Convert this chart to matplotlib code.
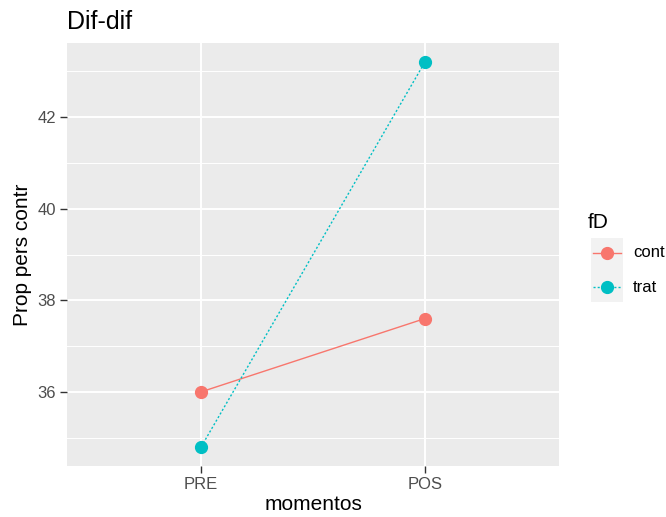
import matplotlib.pyplot as plt
from matplotlib.lines import Line2D
from matplotlib.patches import Rectangle

plt.rcParams['font.family'] = ['Liberation Sans', 'DejaVu Sans']

momentos = ['PRE', 'POS']
groups = ['cont', 'trat']
cont_vals = [36.0, 37.6]
trat_vals = [34.8, 43.2]
colors = {'cont': '#F8766D', 'trat': '#00BFC4'}
styles = {'cont': '-', 'trat': (0, (1.5, 1.5))}

W, H = 666, 517
fig = plt.figure(figsize=(W / 100, H / 100), dpi=100)
ax = fig.add_axes([67 / W, 1 - 466 / H, (559 - 67) / W, (466 - 43) / H])
ax.set_facecolor('#EBEBEB')
for s in ax.spines.values():
    s.set_visible(False)

x = list(range(len(momentos)))
for g, vals in zip(groups, [cont_vals, trat_vals]):
    ax.plot(x, vals, color=colors[g], linestyle=styles[g], lw=1.0,
            marker='o', markersize=8.5, zorder=3)

ax.set_xlim(-0.6, 1.6)
lo, hi = min(cont_vals + trat_vals), max(cont_vals + trat_vals)
pad = (hi - lo) * 0.05
ax.set_ylim(lo - pad, hi + pad)

ax.set_xticks(x)
ax.set_xticklabels(momentos)
ax.set_yticks([36, 38, 40, 42])
ax.set_yticks([35, 37, 39, 41, 43], minor=True)
ax.tick_params(axis='both', which='major', length=5, width=1, color='#333333',
               labelsize=12, labelcolor='#4D4D4D', pad=3)
ax.tick_params(axis='y', which='minor', length=0)
ax.grid(True, which='major', color='white', lw=1.4)
ax.grid(True, which='minor', axis='y', color='white', lw=0.7)
ax.set_axisbelow(True)

ax.set_xlabel('momentos', fontsize=15, labelpad=2)
ax.set_ylabel('Prop pers contr', fontsize=15, labelpad=4)
fig.text(67 / W, 1 - 22 / H, 'Dif-dif', fontsize=18, ha='left', va='center')

# legend
fig.text(588 / W, 1 - 222 / H, 'fD', fontsize=15, ha='left', va='center')
fig.patches.append(Rectangle((591 / W, 1 - 302 / H), 32 / W, 64 / H,
                             transform=fig.transFigure, facecolor='#F2F2F2',
                             edgecolor='none'))
for g, yp in zip(groups, [253, 287]):
    yy = 1 - yp / H
    fig.lines.append(Line2D([593 / W, 621 / W], [yy, yy], transform=fig.transFigure,
                            color=colors[g], linestyle=styles[g], lw=1.0))
    fig.lines.append(Line2D([607 / W], [yy], transform=fig.transFigure,
                            color=colors[g], marker='o', markersize=8.5))
    fig.text(633 / W, yy, g, fontsize=12, ha='left', va='center', color='black')

fig.savefig('out.png', dpi=100)
